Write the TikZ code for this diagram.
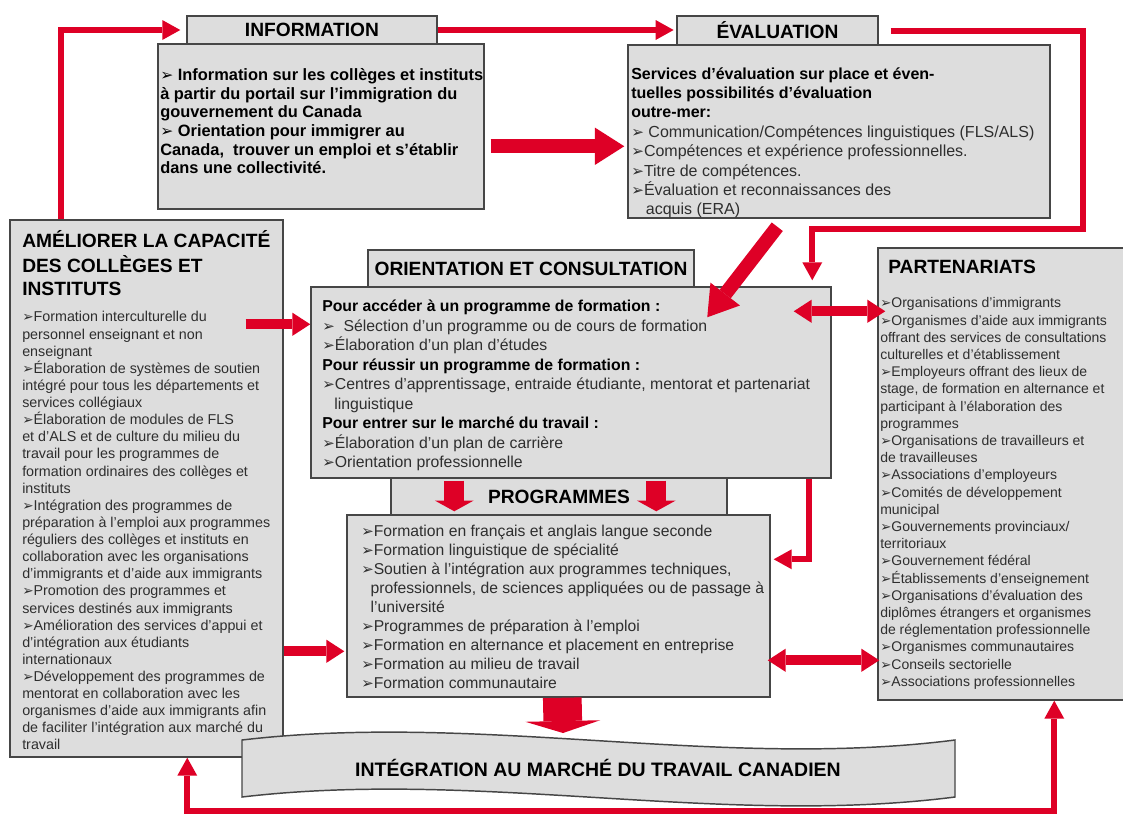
\documentclass[tikz,border=0pt]{standalone}
\usepackage{fontspec}
\setmainfont{Liberation Sans}
\newfontfamily\symf[Scale=0.95]{DejaVu Sans}
\usetikzlibrary{arrows.meta,fit,calc}
\definecolor{rd}{RGB}{222,0,38}
\definecolor{boxfill}{RGB}{221,221,221}
\definecolor{boxline}{RGB}{70,70,70}
\newcommand\bul{{\symf ➢}}
\newcommand\fsz[2]{\fontsize{#1}{#2}\selectfont}
\begin{document}
\begin{tikzpicture}[x=0.75pt,y=-0.75pt,
  panel/.style={draw=boxline, fill=boxfill, line width=1.1pt, inner sep=0pt},
  txt/.style={anchor=north west, inner sep=0pt, align=left, text=black!82},
  ttl/.style={inner sep=0pt, font=\fsz{14.4pt}{17.25pt}\bfseries, text=black},
  thinarr/.style={draw=rd, line width=4.5pt, -{Triangle[width=15pt,length=13.5pt,line width=0pt]}},
  medtip/.tip={Triangle[width=17.5pt,length=13.5pt,line width=0pt]},
  medarr/.style={draw=rd, line width=7.5pt, -medtip},
  thickarr/.style={draw=rd, line width=10.5pt, -{Triangle[width=28pt,length=22pt,line width=0pt]}},
  blockarr/.style={draw=rd, line width=15pt, -{Triangle[width=29pt,length=8pt,line width=0pt]}},
  bigblock/.style={draw=rd, line width=29pt, -{Triangle[width=56pt,length=9pt,line width=0pt]}}
]
\useasboundingbox (0,0) rectangle (1123,814);
\fill[white] (0,0) rectangle (1123,814);

% tabs
\node[panel, fit={(187,16)(437,44)}] (infotab) {};
\node[panel, fit={(677,16)(878,45)}] (evaltab) {};
\node[panel, fit={(368,250)(694,287)}] (orienttab) {};
\node[panel, fit={(391,478)(727,515)}] (progtab) {};
% boxes
\node[panel, fit={(158,44)(484,209)}] (info) {};
\node[panel, fit={(628,45)(1050,218)}] (eval) {};
\node[panel, fit={(10,220)(283,757)}] (left) {};
\node[panel, fit={(311,287)(831,478)}] (orient) {};
\node[panel, fit={(347,515)(770,697)}] (prog) {};
\node[panel, fit={(878,248)(1128,700)}] (part) {};

% banner
\draw[draw=boxline, fill=boxfill, line width=1.1pt]
  (242,740) .. controls (480,712) and (720,770) .. (955,740) -- (955,797)
  .. controls (720,827) and (480,769) .. (242,797) -- cycle;
\node[ttl, font=\fsz{14.6pt}{17pt}\bfseries] (banner) at (598,768) {INTÉGRATION AU MARCHÉ DU TRAVAIL CANADIEN};
\coordinate (bantop) at (563,733);

% titles
\node[ttl] (infottl) at (infotab.center) {INFORMATION};
\node[ttl] (evalttl) at (evaltab.center) {ÉVALUATION};
\node[ttl] (orientttl) at (orienttab.center) {ORIENTATION ET CONSULTATION};
\node[ttl] (progttl) at (progtab.center) {PROGRAMMES};
\node[ttl, anchor=north west, align=left] (leftttl) at (22,230.2) {\strut AMÉLIORER LA CAPACITÉ\\DES COLLÈGES ET\\INSTITUTS};
\node[ttl, anchor=north west, align=left] (partttl) at (888,256.7) {\strut PARTENARIATS};

% texts
\node[txt, text=black, font=\fsz{12.3pt}{13.95pt}\bfseries] (infotxt) at (160,67.4) {\strut\bul\ Information sur les collèges et instituts\\
à partir du portail sur l’immigration du\\
gouvernement du Canada\\
\bul\ Orientation pour immigrer au\\
Canada,\ \ trouver un emploi et s’établir\\
dans une collectivité.};

\node[txt, font=\fsz{12pt}{14.55pt}] (evaltxt) at (631,65.2) {\strut\textcolor{black}{\bfseries Services d’évaluation sur place et éven-}\\
\textcolor{black}{\bfseries tuelles possibilités d’évaluation}\\
\textcolor{black}{\bfseries outre-mer:}\\
\bul\ Communication/Compétences linguistiques (FLS/ALS)\\
\bul Compétences et expérience professionnelles.\\
\bul Titre de compétences.\\
\bul Évaluation et reconnaissances des\\
\hspace*{11pt}acquis (ERA)};

\node[txt, font=\fsz{11.85pt}{14.625pt}] (orienttxt) at (322,297.6) {\strut\textcolor{black}{\bfseries Pour accéder à un programme de formation :}\\
\bul\ \ Sélection d’un programme ou de cours de formation\\
\bul Élaboration d’un plan d’études\\
\textcolor{black}{\bfseries Pour réussir un programme de formation :}\\
\bul Centres d’apprentissage, entraide étudiante, mentorat et partenariat\\
\hspace*{9pt}linguistique\\
\textcolor{black}{\bfseries Pour entrer sur le marché du travail :}\\
\bul Élaboration d’un plan de carrière\\
\bul Orientation professionnelle};

\node[txt, font=\fsz{11.775pt}{14.25pt}] (progtxt) at (361,523.4) {\strut\bul Formation en français et anglais langue seconde\\
\bul Formation linguistique de spécialité\\
\bul Soutien à l’intégration aux programmes techniques,\\
\hspace*{7pt}professionnels, de sciences appliquées ou de passage à\\
\hspace*{7pt}l’université\\
\bul Programmes de préparation à l’emploi\\
\bul Formation en alternance et placement en entreprise\\
\bul Formation au milieu de travail\\
\bul Formation communautaire};

\node[txt, font=\fsz{10.5pt}{12.9pt}] (parttxt) at (880,295.6) {\strut\bul Organisations d’immigrants\\
\bul Organismes d’aide aux immigrants\\
offrant des services de consultations\\
culturelles et d’établissement\\
\bul Employeurs offrant des lieux de\\
stage, de formation en alternance et\\
participant à l’élaboration des\\
programmes\\
\bul Organisations de travailleurs et\\
de travailleuses\\
\bul Associations d’employeurs\\
\bul Comités de développement\\
municipal\\
\bul Gouvernements provinciaux/\\
territoriaux\\
\bul Gouvernement fédéral\\
\bul Établissements d’enseignement\\
\bul Organisations d’évaluation des\\
diplômes étrangers et organismes\\
de réglementation professionnelle\\
\bul Organismes communautaires\\
\bul Conseils sectorielle\\
\bul Associations professionnelles};

\node[txt, font=\fsz{10.725pt}{12.84pt}] (lefttxt) at (22,309.7) {\strut\bul Formation interculturelle du\\
personnel enseignant et non\\
enseignant\\
\bul Élaboration de systèmes de soutien\\
intégré pour tous les départements et\\
services collégiaux\\
\bul Élaboration de modules de FLS\\
et d’ALS et de culture du milieu du\\
travail pour les programmes de\\
formation ordinaires des collèges et\\
instituts\\
\bul Intégration des programmes de\\
préparation à l’emploi aux programmes\\
réguliers des collèges et instituts en\\
collaboration avec les organisations\\
d’immigrants et d’aide aux immigrants\\
\bul Promotion des programmes et\\
services destinés aux immigrants\\
\bul Amélioration des services d’appui et\\
d’intégration aux étudiants\\
internationaux\\
\bul Développement des programmes de\\
mentorat en collaboration avec les\\
organismes d’aide aux immigrants afin\\
de faciliter l’intégration aux marché du\\
travail};

% connectors
\draw[thinarr] ($(left.north west)+(52,0)$) |- ($(infotab.west)+(-6,0)$);
\draw[thinarr, shorten >=2pt] (infotab.east) -- (infotab.east -| evaltab.west);
\draw[thinarr] ($(evaltab.east)+(12,0)$) -- ++(192,0) |- ($(eval.south west)+(185,10)$) -- ($(orient.north west)+(502,-6)$);
\draw[thickarr] ($(info.north east)+(6,103)$) -- ($(eval.north west)+(-3,102)$);
\draw[thickarr] ($(eval.south west)+(150,8)$) -- ($(orient.north west)+(397,31)$);
\draw[medarr] ($(left.north east)+(-38,105)$) -- ($(orient.north west)+(0,38)$);
\draw[medarr] ($(left.north east)+(0,432)$) -- ($(prog.north west)+(-2,137)$);
\draw[medarr, medtip-medtip] ($(orient.north east)+(-38,25)$) -- ($(part.north west)+(8,64)$);
\draw[medarr, medtip-medtip] ($(prog.north east)+(-3,146)$) -- ($(part.north west)+(2,413)$);
\draw[thinarr] ($(orient.south east)+(-23,0)$) |- ($(prog.north east)+(3,45)$);
\draw[blockarr] ($(orient.south west)+(144,2)$) -- ($(progtab.north west)+(64,34)$);
\draw[blockarr] ($(orient.south west)+(346,2)$) -- ($(progtab.north west)+(266,34)$);
\draw[bigblock] ($(prog.south west)+(216,0)$) -- (bantop);
\draw[thinarr, {Triangle[width=15pt,length=13.5pt,line width=0pt]}-{Triangle[width=15pt,length=13.5pt,line width=0pt]}]
  ($(left.south west)+(178,0)$) -- ++(0,53) -| ($(part.south west)+(177,0)$);
\end{tikzpicture}
\end{document}
